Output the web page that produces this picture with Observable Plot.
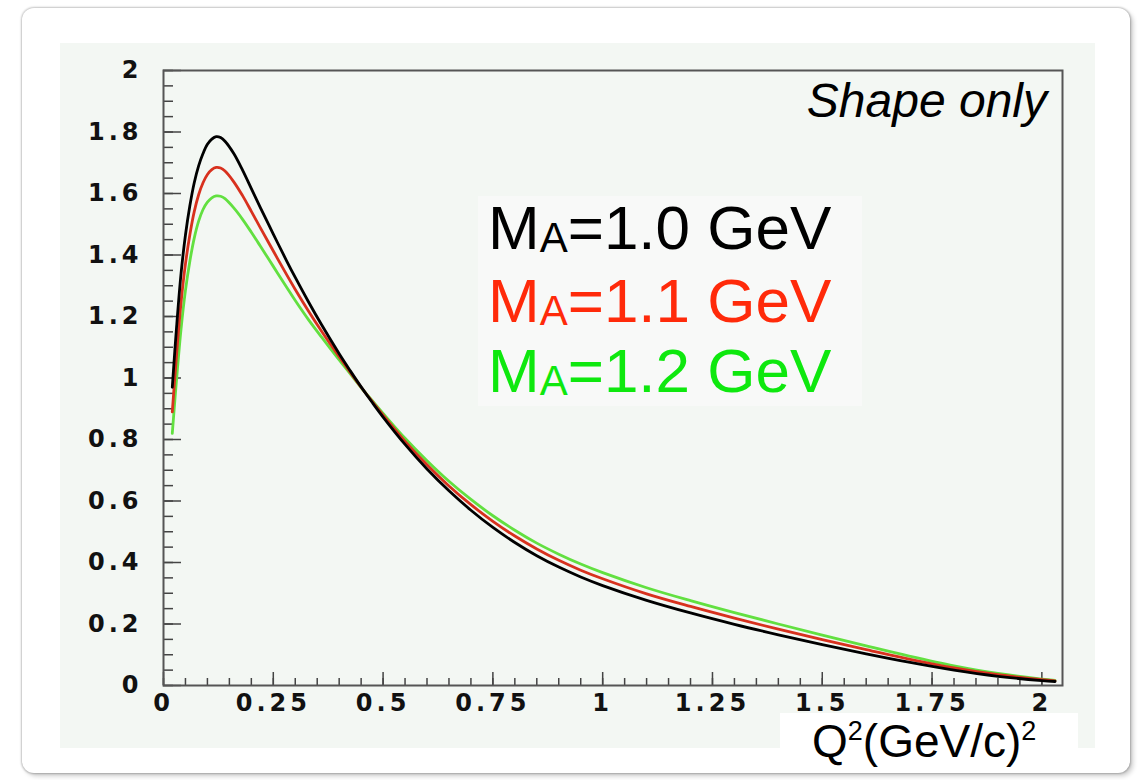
<!DOCTYPE html>
<html><head><meta charset="utf-8">
<script src="https://cdn.jsdelivr.net/npm/d3@7"></script>
<script src="https://cdn.jsdelivr.net/npm/@observablehq/plot@0.6"></script>
<style>
html,body{margin:0;padding:0;background:#fff;}
#wrap{position:relative;width:1141px;height:780px;overflow:hidden;font-family:"Liberation Sans",Arial,sans-serif;}
#card{position:absolute;left:22px;top:8px;width:1108px;height:765px;border-radius:12px;background:#fff;box-shadow:0 0 2px 1px rgba(0,0,0,0.22),3px 3px 5px rgba(0,0,0,0.2);}
#panel{position:absolute;left:60px;top:43px;width:1035px;height:705px;background:#f3f7f3;}
#legbox{position:absolute;left:478px;top:196px;width:384px;height:210px;background:#f8f9f8;}
#chart{position:absolute;left:0;top:0;}
.leg{position:absolute;left:488px;font-size:62px;line-height:1;white-space:nowrap;}
.leg sub{font-size:42px;vertical-align:baseline;position:relative;top:3px;}
#shape{position:absolute;right:94px;top:77px;font-size:48px;font-style:italic;line-height:1;white-space:nowrap;color:#000;}
#xlabbox{position:absolute;left:780px;top:713px;width:298px;height:55px;background:#fff;}
#xlab{position:absolute;left:812px;top:718px;font-size:46px;line-height:1;white-space:nowrap;color:#000;}
#xlab sup{font-size:27px;vertical-align:baseline;position:relative;top:-17px;}
svg [aria-label="x-axis tick label"] text, svg [aria-label="y-axis tick label"] text{letter-spacing:4px;}
</style></head>
<body>
<div id="wrap">
  <div id="card"></div>
  <div id="panel"></div>
  <div id="legbox"></div>
  <div id="chart"></div>
  <div id="shape">Shape only</div>
  <div class="leg" id="l0" style="top:197px;color:#000000">M<sub>A</sub>=1.0 GeV</div>
  <div class="leg" id="l1" style="top:270px;color:#ff2a0a">M<sub>A</sub>=1.1 GeV</div>
  <div class="leg" id="l2" style="top:340px;color:#0ee80e">M<sub>A</sub>=1.2 GeV</div>
  <div id="xlabbox"></div>
  <div id="xlab">Q<sup>2</sup>(GeV/c)<sup>2</sup></div>
</div>
<script>
// Q^2 sample points (GeV/c)^2
const qsq = [0.02,0.03,0.04,0.05,0.06,0.07,0.08,0.09,0.10,0.11,0.12,0.13,0.14,0.16,0.18,0.20,0.22,0.25,0.28,0.30,0.33,0.36,0.40,0.425,0.45,0.475,0.50,0.55,0.60,0.65,0.70,0.75,0.80,0.85,0.90,0.95,1.00,1.10,1.20,1.30,1.40,1.50,1.60,1.70,1.80,1.90,2.00,2.03];
// M_A = 1.0 GeV (black)
const ma10 = [0.97,1.17,1.34,1.465,1.56,1.635,1.69,1.73,1.76,1.777,1.785,1.782,1.77,1.73,1.676,1.616,1.556,1.468,1.382,1.327,1.248,1.173,1.079,1.024,0.971,0.921,0.873,0.784,0.704,0.633,0.570,0.514,0.465,0.422,0.385,0.353,0.325,0.277,0.236,0.199,0.165,0.133,0.103,0.075,0.050,0.030,0.016,0.013];
// M_A = 1.1 GeV (red)
const ma11 = [0.89,1.08,1.246,1.371,1.466,1.541,1.596,1.635,1.662,1.678,1.685,1.683,1.673,1.638,1.593,1.542,1.490,1.413,1.337,1.288,1.218,1.152,1.069,1.019,0.970,0.924,0.879,0.794,0.718,0.649,0.588,0.534,0.486,0.444,0.407,0.375,0.347,0.298,0.257,0.219,0.183,0.149,0.117,0.085,0.057,0.035,0.019,0.015];
// M_A = 1.2 GeV (green)
const ma12 = [0.82,1.00,1.16,1.285,1.38,1.455,1.51,1.548,1.572,1.586,1.592,1.591,1.583,1.553,1.516,1.474,1.430,1.363,1.296,1.252,1.190,1.133,1.059,1.014,0.969,0.927,0.885,0.804,0.731,0.664,0.605,0.552,0.505,0.463,0.427,0.395,0.367,0.318,0.276,0.237,0.200,0.164,0.129,0.095,0.064,0.039,0.021,0.017];

const seriesNames = ["MA=1.0 GeV","MA=1.1 GeV","MA=1.2 GeV"];
const seriesColors = ["#000000","#d8311e","#62e040"];

const xTicks = [0,0.25,0.5,0.75,1,1.25,1.5,1.75,2];
const yTicks = [0,0.2,0.4,0.6,0.8,1,1.2,1.4,1.6,1.8,2];
const xMinor = d3.range(0, 2.04, 0.05);
const yMinor = d3.range(0, 2.001, 0.05);

const rows = [];
[ma10, ma11, ma12].forEach((vals, i) => {
  vals.forEach((v, j) => rows.push({q: qsq[j], v, s: seriesNames[i]}));
});

const W = 1141, H = 780, mL = 163, mT = 70, mR = 79, mB = 95;
const pw = W - mL - mR, ph = H - mT - mB;
const fmt = d => String(d);
const lineOpts = {x: "q", y: "v", stroke: "s", strokeWidth: 2.8, curve: "catmull-rom"};

const chart = Plot.plot({
  width: W, height: H,
  marginLeft: mL, marginTop: mT, marginRight: mR, marginBottom: mB,
  style: {background: "transparent", fontFamily: "'DejaVu Sans', sans-serif", color: "#111"},
  x: {domain: [0, 2.047]},
  y: {domain: [0, 2]},
  color: {domain: seriesNames, range: seriesColors},
  marks: [
    Plot.tickY(yMinor, {y: d => d, insetRight: pw - 10, stroke: "#444", strokeWidth: 1.5}),
    Plot.tickY(yTicks, {y: d => d, insetRight: pw - 18, stroke: "#444", strokeWidth: 1.5}),
    Plot.tickX(xMinor, {x: d => d, insetTop: ph - 7, stroke: "#444", strokeWidth: 1.5}),
    Plot.tickX(xTicks, {x: d => d, insetTop: ph - 13, stroke: "#444", strokeWidth: 1.5}),
    Plot.line(rows.filter(d => d.s === seriesNames[2]), lineOpts),
    Plot.line(rows.filter(d => d.s === seriesNames[1]), lineOpts),
    Plot.line(rows.filter(d => d.s === seriesNames[0]), lineOpts),
    Plot.frame({stroke: "#555", strokeWidth: 2}),
    Plot.axisX(xTicks, {tickSize: 0, tickPadding: 8, fontSize: 24, fontWeight: "bold", tickFormat: fmt, label: null}),
    Plot.axisY(yTicks, {tickSize: 0, tickPadding: 21, fontSize: 24, fontWeight: "bold", tickFormat: fmt, label: null})
  ]
});
document.getElementById("chart").appendChild(chart);
</script>
</body></html>
